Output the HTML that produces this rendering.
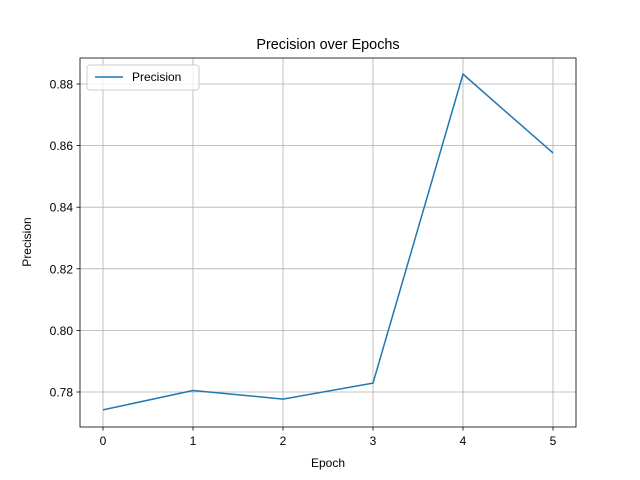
<!DOCTYPE html>
<html><head><meta charset="utf-8"><style>body{margin:0;background:#fff}svg{display:block;font-family:"Liberation Sans","DejaVu Sans",sans-serif}</style></head>
<body>
<svg id="chart" width="640" height="480" xmlns="http://www.w3.org/2000/svg">
<rect x="0" y="0" width="640" height="480" fill="#fff"/>
<g id="grid"></g>
<g id="axes"></g>
<polyline id="line" fill="none" stroke="#1f77b4" stroke-width="1.5"/>
<rect x="80" y="58" width="496" height="369" fill="none" stroke="#000" stroke-width="0.8"/>
<text x="328" y="49" text-anchor="middle" font-size="14.4">Precision over Epochs</text>
<text x="328" y="467" text-anchor="middle" font-size="12">Epoch</text>
<text x="31" y="242" text-anchor="middle" font-size="12" transform="rotate(-90 31 242)">Precision</text>
<g>
<rect x="87" y="65" width="112" height="25" rx="3" fill="#fff" fill-opacity="0.8" stroke="#ccc"/>
<line x1="95" y1="77" x2="123" y2="77" stroke="#1f77b4" stroke-width="1.5"/>
<text x="132" y="81" font-size="12">Precision</text>
</g>
</svg>
<script>
const epochs = [0, 1, 2, 3, 4, 5];
const precision = [0.7742, 0.7805, 0.7777, 0.7829, 0.8832, 0.8576];
const xTicks = [0, 1, 2, 3, 4, 5];
const yTicks = [0.78, 0.80, 0.82, 0.84, 0.86, 0.88];
const NS = "http://www.w3.org/2000/svg";
function xs(v){ return 103 + v * 90; }
function ys(v){ return 392 - (v - 0.78) / 0.1 * 308; }
const grid = document.getElementById('grid'), axes = document.getElementById('axes');
function mk(tag, attrs, parent){ const e = document.createElementNS(NS, tag); for (const k in attrs) e.setAttribute(k, attrs[k]); parent.appendChild(e); return e; }
xTicks.forEach(t => {
  const x = xs(t);
  const g = mk('line', {x1:x, y1:58, x2:x, y2:427, stroke:'#b0b0b0', 'stroke-width':0.8}, grid);
  
  
  const tk = mk('line', {x1:x, y1:427, x2:x, y2:430.5, stroke:'#000', 'stroke-width':0.8}, axes);
  
  
  const tx = mk('text', {x:x, y:445, 'text-anchor':'middle', 'font-size':12}, axes);
  tx.textContent = String(t);
  
  
});
yTicks.forEach(t => {
  const y = ys(t);
  const g = mk('line', {x1:80, y1:y, x2:576, y2:y, stroke:'#b0b0b0', 'stroke-width':0.8}, grid);
  
  
  const tk = mk('line', {x1:76.5, y1:y, x2:80, y2:y, stroke:'#000', 'stroke-width':0.8}, axes);
  
  
  const tx = mk('text', {x:73, y:y+4.5, 'text-anchor':'end', 'font-size':12}, axes);
  tx.textContent = t.toFixed(2);
  
  
});
document.getElementById('line').setAttribute('points', epochs.map((e,i) => xs(e) + ',' + ys(precision[i])).join(' '));
</script>
</body></html>
